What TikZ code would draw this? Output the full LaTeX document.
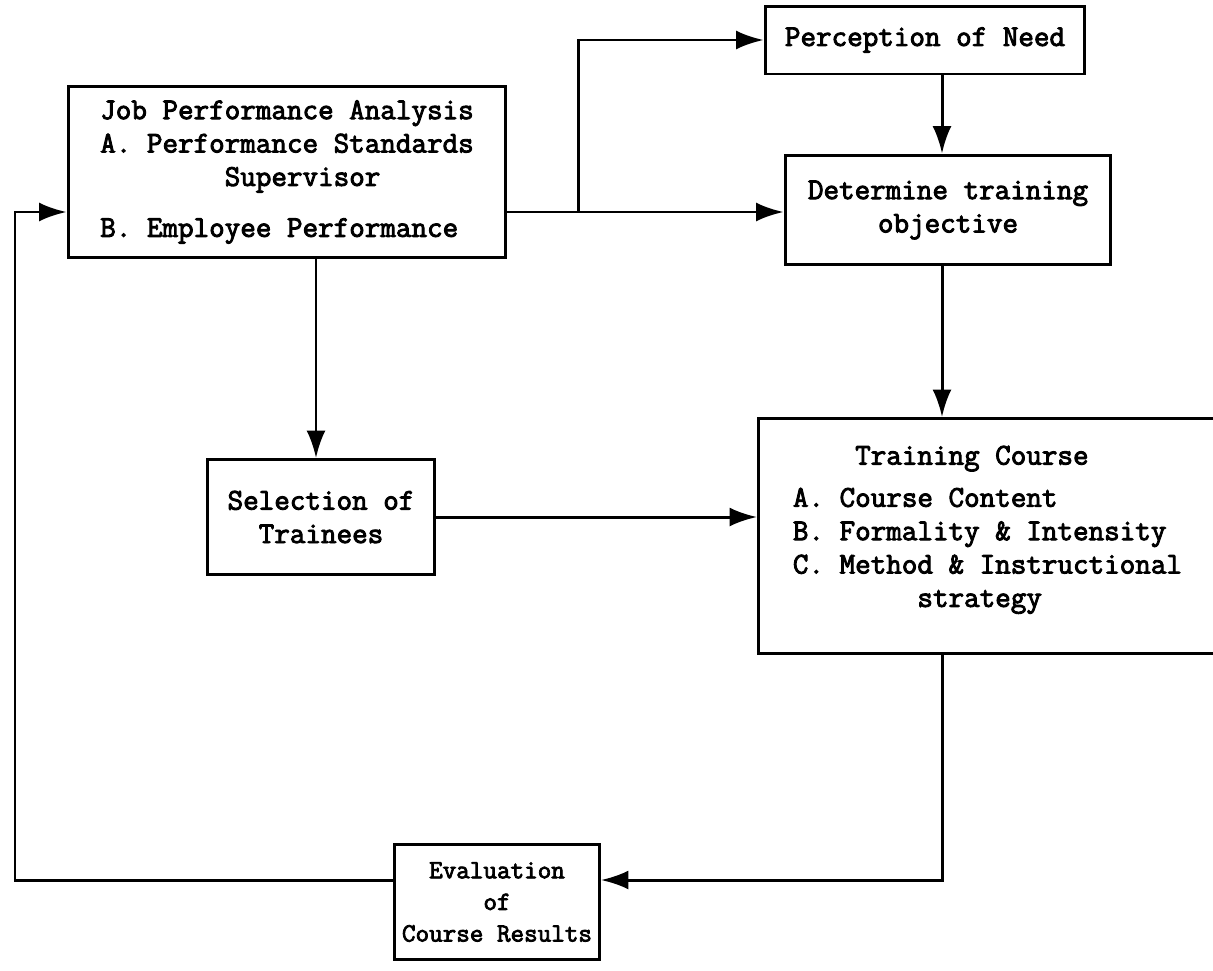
\documentclass[tikz,border=0pt]{standalone}
\usepackage{fontspec}
\setmonofont{Latin Modern Mono}[AutoFakeBold=3]
\usetikzlibrary{arrows.meta}

\begin{document}
\begin{tikzpicture}[x=0.02cm, y=-0.02cm,
  every node/.style={font=\ttfamily\bfseries\fontsize{17.2}{19}\selectfont},
  blk/.style={draw, line width=1.7pt, inner sep=0pt},
  flow/.style={line width=1.7pt, -{Latex[length=5.5mm,width=3.8mm]}}]
  \useasboundingbox (0,0) rectangle (1213,970);
  % boxes
  \node[blk, minimum width=8.76cm, minimum height=3.42cm, align=left] (job) at (287,172)
    {Job Performance Analysis\\ A. Performance Standards\\ \phantom{A. Perfo}Supervisor\\[10pt] B. Employee Performance};
  \node[blk, minimum width=6.4cm, minimum height=1.36cm] (need) at (925,40) {Perception of Need};
  \node[blk, minimum width=6.52cm, minimum height=2.2cm, align=center] (goal) at (948,210)
    {Determine training\\ objective};
  \node[blk, anchor=north west, minimum width=9.16cm, minimum height=4.7cm, align=left] (course) at (757,417)
    {\phantom{A. C}Training Course\\[5pt] A. Course Content\\ B. Formality \& Intensity\\ C. Method \& Instructional\\ \phantom{C. Metho}strategy\\[-8pt] \mbox{}};
  \node[blk, minimum width=4.56cm, minimum height=2.3cm, align=center] (trainee) at (321,517)
    {Selection of\\ Trainees};
  \node[blk, minimum width=4.1cm, minimum height=2.3cm, align=center,
        font=\ttfamily\bfseries\fontsize{15}{18}\selectfont] (eval) at (497,902)
    {Evaluation\\ of\\ Course Results};
  % connectors
  \coordinate (split) at (578,212);
  \coordinate (down) at (942,880);
  \coordinate (back) at (15,880);
  \draw[line width=1.7pt] (job.east |- split) -- (split);
  \draw[flow] (split) |- (need.west);
  \draw[flow] (split) -- (split -| goal.west);
  \draw[flow] (need.south -| down) -- (goal.north -| down);
  \draw[flow] (goal.south -| down) -- (course.north -| down);
  \draw[flow] (job.south -| 316,0) -- (trainee.north -| 316,0);
  \draw[flow] (trainee.east) -- (trainee.east -| course.west);
  \draw[flow] (course.south -| down) -- (down) -- (eval.east |- down);
  \draw[flow] (eval.west |- back) -- (back) |- (job.west |- split);
\end{tikzpicture}
\end{document}
